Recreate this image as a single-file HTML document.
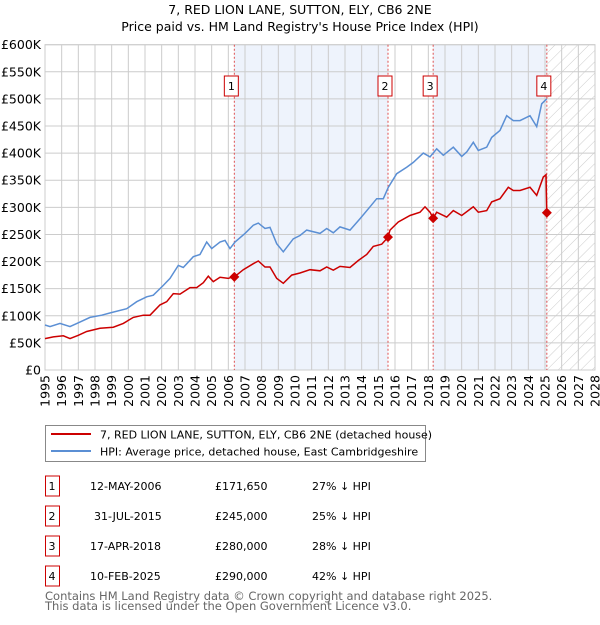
<!DOCTYPE html>
<html><head><meta charset="utf-8"><style>
body{margin:0;background:#fff;font-family:"Liberation Sans","DejaVu Sans",sans-serif;}
svg text{font-family:"DejaVu Sans","Liberation Sans",sans-serif;}
</style></head><body>
<svg id="chart" width="600" height="620" xmlns="http://www.w3.org/2000/svg">
<defs><pattern id="hatch" patternUnits="userSpaceOnUse" width="8" height="8" patternTransform="rotate(45)"><line x1="0" y1="0" x2="0" y2="8" stroke="#ccc" stroke-width="1"/></pattern></defs>
<text x="300" y="14" text-anchor="middle" font-size="12.5">7, RED LION LANE, SUTTON, ELY, CB6 2NE</text>
<text x="300" y="31" text-anchor="middle" font-size="12.5">Price paid vs. HM Land Registry's House Price Index (HPI)</text>
<g id="plot"></g>
<g>
<rect x="45.5" y="425.5" width="380" height="36" fill="#fff" stroke="#888"/>
<line x1="51" y1="434" x2="91" y2="434" stroke="#cc0000" stroke-width="2"/>
<text x="100" y="438.5" font-size="11">7, RED LION LANE, SUTTON, ELY, CB6 2NE (detached house)</text>
<line x1="51" y1="451" x2="91" y2="451" stroke="#5b8fd4" stroke-width="2"/>
<text x="100" y="455.5" font-size="11">HPI: Average price, detached house, East Cambridgeshire</text>
</g>
<g id="table" font-size="11"></g>
<text x="45" y="600" font-size="11.5" fill="#666">Contains HM Land Registry data © Crown copyright and database right 2025.</text>
<text x="45" y="610" font-size="11.5" fill="#666">This data is licensed under the Open Government Licence v3.0.</text>
</svg>
<script>
const hpiYears=[1995,1995.3,1995.9,1996.5,1997,1997.7,1998.4,1999,1999.9,2000.5,2001.1,2001.5,2002.1,2002.5,2003,2003.3,2003.9,2004.3,2004.7,2005,2005.5,2005.8,2006.1,2006.4,2007,2007.5,2007.8,2008.2,2008.5,2008.9,2009.3,2009.9,2010.3,2010.7,2011.5,2011.9,2012.3,2012.7,2013.3,2013.9,2014.5,2014.9,2015.3,2015.6,2016.1,2016.7,2017.1,2017.7,2018.1,2018.5,2018.9,2019.5,2020,2020.3,2020.7,2021,2021.5,2021.8,2022.3,2022.7,2023.1,2023.5,2024.1,2024.5,2024.8,2025.1];
const hpiValues=[83,80,86,80,87,97,101,106,113,126,135,138,156,169,193,189,209,213,236,224,236,239,224,236,252,267,271,261,263,233,218,242,248,258,252,261,253,264,258,279,301,316,316,337,362,374,383,400,393,408,396,411,394,402,420,405,411,429,442,469,460,460,469,449,491,500];
const ppYears=[1995,1995.5,1996.1,1996.5,1997,1997.5,1998.3,1999.1,1999.7,2000.3,2000.9,2001.3,2001.9,2002.3,2002.7,2003.1,2003.7,2004.1,2004.5,2004.8,2005.1,2005.5,2006,2006.3,2006.36,2006.9,2007.5,2007.8,2008.2,2008.5,2008.9,2009.3,2009.8,2010.3,2010.9,2011.5,2011.9,2012.3,2012.7,2013.3,2013.8,2014.3,2014.7,2015.2,2015.58,2015.7,2016.2,2016.9,2017.5,2017.8,2018.1,2018.29,2018.5,2019.1,2019.5,2020,2020.7,2021,2021.5,2021.8,2022.3,2022.8,2023.1,2023.5,2024.1,2024.5,2024.9,2025.06,2025.11];
const ppValues=[58,61,63,58,64,71,77,79,86,97,101,101,120,126,141,140,152,152,161,173,163,171,169,172,171.65,185,196,201,190,190,169,160,175,179,185,183,190,184,191,189,202,213,228,232,245,258,273,285,291,301,291,280,291,282,294,285,301,291,294,310,316,337,331,331,337,322,356,360,290];
const saleYears=[2006.36,2015.58,2018.29,2025.11];
const saleValues=[171.65,245,280,290];
const saleLabels=["1","2","3","4"];
const saleDates=["12-MAY-2006","31-JUL-2015","17-APR-2018","10-FEB-2025"];
const salePrices=["£171,650","£245,000","£280,000","£290,000"];
const saleDiffs=["27% ↓ HPI","25% ↓ HPI","28% ↓ HPI","42% ↓ HPI"];
const yTicks=[0,50,100,150,200,250,300,350,400,450,500,550,600];
const yTickLabels=["£0","£50K","£100K","£150K","£200K","£250K","£300K","£350K","£400K","£450K","£500K","£550K","£600K"];
const xTicks=[1995,1996,1997,1998,1999,2000,2001,2002,2003,2004,2005,2006,2007,2008,2009,2010,2011,2012,2013,2014,2015,2016,2017,2018,2019,2020,2021,2022,2023,2024,2025,2026,2027,2028];
const NS="http://www.w3.org/2000/svg";
const L=45,R=595,T=44.7,B=370;
const xs=y=>L+(y-1995)/(2028-1995)*(R-L);
const ys=v=>B-v/600*(B-T);
const plot=document.getElementById('plot');
function mk(tag,attrs,parent){const e=document.createElementNS(NS,tag);for(const k in attrs)e.setAttribute(k,attrs[k]);(parent||plot).appendChild(e);return e;}
for(let i=0;i<saleYears.length-1;i+=2){
 const r=mk('rect',{x:xs(saleYears[i]),y:T,width:xs(saleYears[i+1])-xs(saleYears[i]),height:B-T,fill:'#eef3fc'});
 
 
}
const hz=mk('rect',{x:xs(saleYears[3]),y:T,width:R-xs(saleYears[3]),height:B-T,fill:'url(#hatch)'});


yTicks.forEach((v,i)=>{
 const g=mk('line',{x1:L,x2:R,y1:ys(v),y2:ys(v),stroke:'#ccc','stroke-width':1});
 
 
 const t=mk('text',{x:L-4,y:ys(v)+4.5,'text-anchor':'end','font-size':12.5});
 
 
 t.textContent=yTickLabels[i];
});
xTicks.forEach(y=>{
 const g=mk('line',{x1:xs(y),x2:xs(y),y1:T,y2:B,stroke:'#ccc','stroke-width':1});
 
 
 const t=mk('text',{x:0,y:0,'text-anchor':'end','font-size':12.5,transform:`translate(${xs(y)+4.5},${B+5}) rotate(-90)`});
 
 
 t.textContent=y;
});
const fr=mk('rect',{x:L,y:T,width:R-L,height:B-T,fill:'none',stroke:'#ccc'});


saleYears.forEach((y,i)=>{
 const l=mk('line',{x1:xs(y),x2:xs(y),y1:T,y2:B,stroke:'#e05050','stroke-width':1,'stroke-dasharray':'2,2'});
 
 
 const bx=xs(y)-10;
 const b=mk('rect',{x:bx,y:76,width:14,height:20,fill:'#fff',stroke:'#cc0000'});
 
 
 const t=mk('text',{x:bx+7,y:90,'text-anchor':'middle','font-size':11});
 
 
 t.textContent=saleLabels[i];
});
function line(xsA,vs,color,name){
 const p=mk('path',{d:xsA.map((y,i)=>(i?'L':'M')+xs(y).toFixed(1)+','+ys(vs[i]).toFixed(1)).join(''),fill:'none',stroke:color,'stroke-width':1.5});
 
 
}
line(hpiYears,hpiValues,'#5b8fd4','hpi-line');
line(ppYears,ppValues,'#cc0000','price-paid-line');
saleYears.forEach((y,i)=>{
 const d=mk('path',{d:`M${xs(y)},${ys(saleValues[i])-5}l5,5l-5,5l-5,-5z`,fill:'#cc0000'});
 
 
});
const tb=document.getElementById('table');
saleYears.forEach((y,i)=>{
 const yy=476+i*30;
 const b=mk('rect',{x:45.5,y:yy,width:14,height:20,fill:'#fff',stroke:'#cc0000'},tb);
 
 
 const cells=[[52,saleLabels[i],'middle'],[i==1?94:90,saleDates[i],'start'],[215,salePrices[i],'start'],[312,saleDiffs[i],'start']];
 cells.forEach(c=>{
  const t=mk('text',{x:c[0],y:yy+14,'text-anchor':c[2]},tb);
  
  
  t.textContent=c[1];
 });
});
</script>
</body></html>
